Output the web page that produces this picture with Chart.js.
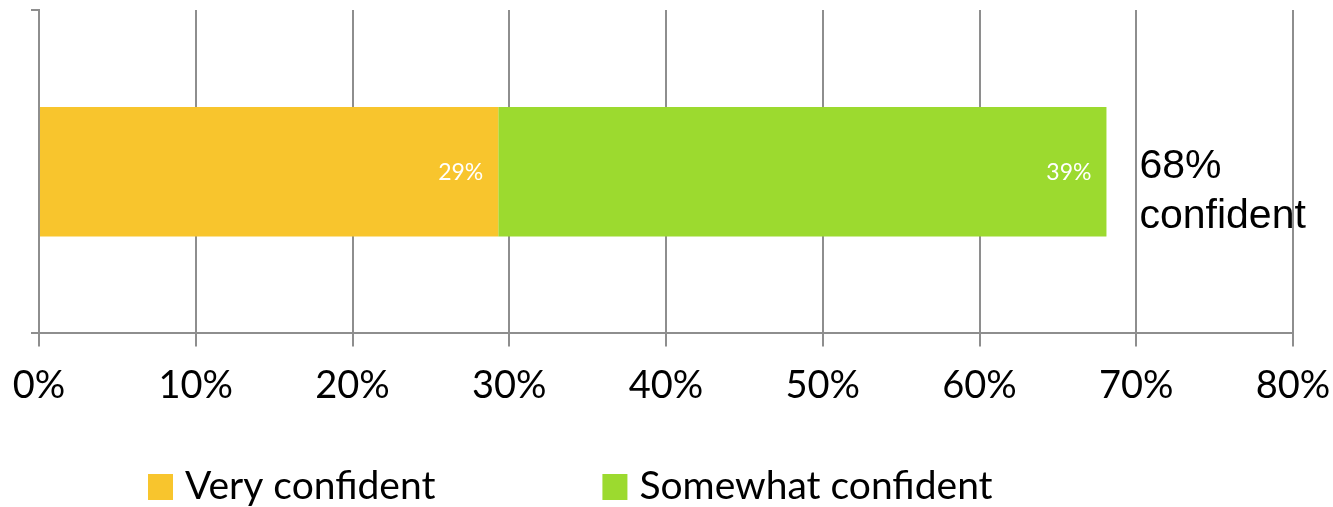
<!DOCTYPE html>
<html>
<head>
<meta charset="utf-8">
<script src="https://cdn.jsdelivr.net/npm/chart.js@4.4.1/dist/chart.umd.min.js"></script>
<style>
  html, body { margin: 0; padding: 0; background: #fff; }
  #wrap { width: 1333px; height: 507px; }
</style>
</head>
<body>
<div id="wrap"><canvas id="confidence-chart"></canvas></div>
<script>
const categories = ['']
const seriesNames = ['Very confident', 'Somewhat confident']
const veryConfident = [29.3]
const somewhatConfident = [38.8]
const valueLabels = ['29%', '39%']
const totalLabel = ['68%', 'confident']
const tickValues = [0, 10, 20, 30, 40, 50, 60, 70, 80]

const colors = ['#F8C52D', '#9CDA2F']
const gridColor = '#8e8e8e'

// white value labels inside the end of each segment
const insideLabels = {
  id: 'insideLabels',
  afterDatasetsDraw (chart) {
    const ctx = chart.ctx
    ctx.save()
    ctx.font = '23px Lato'
    ctx.fillStyle = '#ffffff'
    ctx.textAlign = 'right'
    ctx.textBaseline = 'middle'
    chart.data.datasets.forEach((ds, i) => {
      chart.getDatasetMeta(i).data.forEach((bar) => {
        ctx.fillText(valueLabels[i], bar.x - 15, bar.y + 1)
      })
    })
    // total text to the right of the stacked bar
    const last = chart.getDatasetMeta(chart.data.datasets.length - 1).data[0]
    ctx.font = '41px "Liberation Sans"'
    ctx.fillStyle = '#000000'
    ctx.textAlign = 'left'
    ctx.textBaseline = 'alphabetic'
    ctx.fillText(totalLabel[0], last.x + 33, last.y + 6)
    ctx.fillText(totalLabel[1], last.x + 33, last.y + 56)
    ctx.restore()
  }
}

// legend row below the axis
const bottomLegend = {
  id: 'bottomLegend',
  afterDraw (chart) {
    const ctx = chart.ctx
    ctx.save()
    ctx.font = '39px Lato'
    ctx.textBaseline = 'alphabetic'
    let x = 148
    chart.data.datasets.forEach((ds) => {
      ctx.fillStyle = ds.backgroundColor
      ctx.fillRect(x, 474, 25, 26)
      ctx.fillStyle = '#000'
      ctx.fillText(ds.label, x + 37, 499)
      x += 37 + ctx.measureText(ds.label).width + 167
    })
    ctx.restore()
  }
}

const ctx2d = document.getElementById('confidence-chart').getContext('2d')
const chart = new Chart(ctx2d, {
  type: 'bar',
  data: {
    labels: categories,
    datasets: [
      { label: seriesNames[0], data: veryConfident, backgroundColor: colors[0] },
      { label: seriesNames[1], data: somewhatConfident, backgroundColor: colors[1] }
    ]
  },
  options: {
    indexAxis: 'y',
    responsive: true,
    maintainAspectRatio: false,
    animation: false,
    layout: { padding: { top: 10, left: 31, right: 0, bottom: 81 } },
    datasets: { bar: { categoryPercentage: 0.4, barPercentage: 1 } },
    plugins: {
      legend: { display: false },
      tooltip: { enabled: false }
    },
    scales: {
      x: {
        stacked: true,
        min: 0,
        max: 80,
        afterBuildTicks (scale) { scale.ticks = tickValues.map(v => ({ value: v })) },
        afterFit (scale) {
          scale.paddingLeft = 0
          scale.paddingRight = 40
        },
        grid: { color: gridColor, lineWidth: 2, tickLength: 13 },
        border: { color: gridColor, width: 2 },
        ticks: {
          color: '#000',
          padding: 17,
          font: { family: 'Lato', size: 38 },
          maxRotation: 0,
          callback: (v) => v + '%'
        }
      },
      y: {
        stacked: true,
        grid: { offset: true, drawOnChartArea: false, color: gridColor, lineWidth: 2, tickLength: 8 },
        border: { color: gridColor, width: 2 },
        ticks: { display: false }
      }
    }
  },
  plugins: [insideLabels, bottomLegend]
})
</script>
</body>
</html>
